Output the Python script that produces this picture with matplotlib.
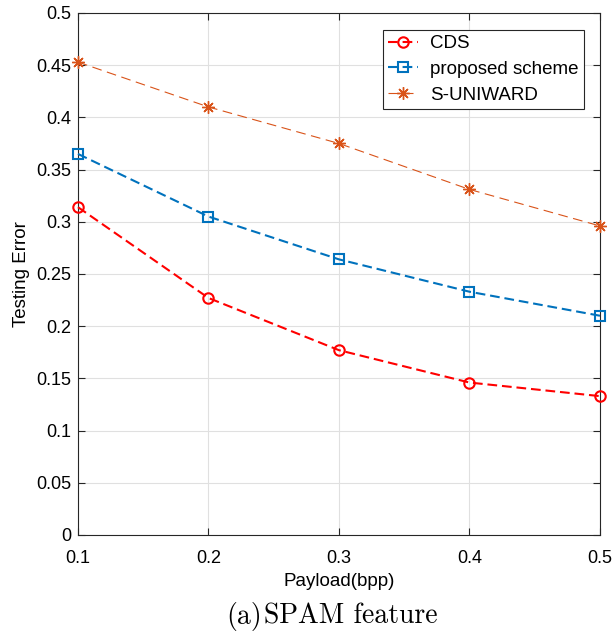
import numpy as np
import matplotlib.pyplot as plt

# === data ===
payload = [0.1, 0.2, 0.3, 0.4, 0.5]
err_cds = [0.314, 0.227, 0.177, 0.146, 0.133]
err_proposed = [0.365, 0.305, 0.264, 0.233, 0.210]
err_suniward = [0.453, 0.410, 0.375, 0.331, 0.296]
xticks = [0.1, 0.2, 0.3, 0.4, 0.5]
yticks = [0, 0.05, 0.1, 0.15, 0.2, 0.25, 0.3, 0.35, 0.4, 0.45, 0.5]

plt.rcParams['font.family'] = ['Liberation Sans', 'DejaVu Sans']
plt.rcParams['lines.scale_dashes'] = False

fig = plt.figure(figsize=(6.13, 6.34), dpi=100)
ax = fig.add_axes([0.1272, 0.1562, 0.8516, 0.8233])

ax.plot(payload, err_cds, '--o', color='#FF0000', lw=1.5, ms=7.5, dashes=(7, 3.5),
        mfc='none', mew=1.5, label='CDS', clip_on=False, zorder=4)
ax.plot(payload, err_proposed, '--s', color='#0072BD', lw=1.5, ms=6.5, dashes=(7, 3.5),
        mfc='none', mew=1.5, label='proposed scheme', clip_on=False, zorder=4)
ax.plot(payload, err_suniward, '--', marker=(8, 2, 0), color='#D95319', lw=0.8, ms=9,
        dashes=(7, 4), mew=1.0, label='S-UNIWARD', clip_on=False, zorder=4)

ax.set_xlim(0.1, 0.5)
ax.set_ylim(0, 0.5)
ax.set_xticks(xticks)
ax.set_yticks(yticks)
ax.set_xticklabels([f'{v:g}' for v in xticks])
ax.set_yticklabels([f'{v:g}' for v in yticks])
ax.grid(True, color='#E0E0E0', lw=0.8)
ax.set_axisbelow(True)
ax.tick_params(direction='in', length=5, width=0.8, labelsize=13,
               top=True, right=True, colors='#262626', labelcolor='black')
ax.tick_params(axis='x', pad=11)
ax.tick_params(axis='y', pad=5)
for s in ax.spines.values():
    s.set_color('#262626')
    s.set_linewidth(0.8)

ax.set_xlabel('Payload(bpp)', fontsize=13.5, labelpad=4)
ax.set_ylabel('Testing Error', fontsize=13.5, labelpad=4)

leg = ax.legend(loc='upper right', bbox_to_anchor=(0.969, 0.968), fontsize=13.5,
                fancybox=False, framealpha=1, edgecolor='#262626',
                handlelength=1.6, handletextpad=0.6, borderpad=0.3,
                labelspacing=0.45, borderaxespad=0)
leg.get_frame().set_linewidth(0.8)

# caption below the plot
fig.text(0.427, 0.016, '(a)', fontsize=20, family='cmr10', ha='right', va='baseline')
fig.text(0.430, 0.016, 'SPAM feature', fontsize=20, family='cmr10', ha='left', va='baseline')

fig.savefig('out.png', dpi=100)
